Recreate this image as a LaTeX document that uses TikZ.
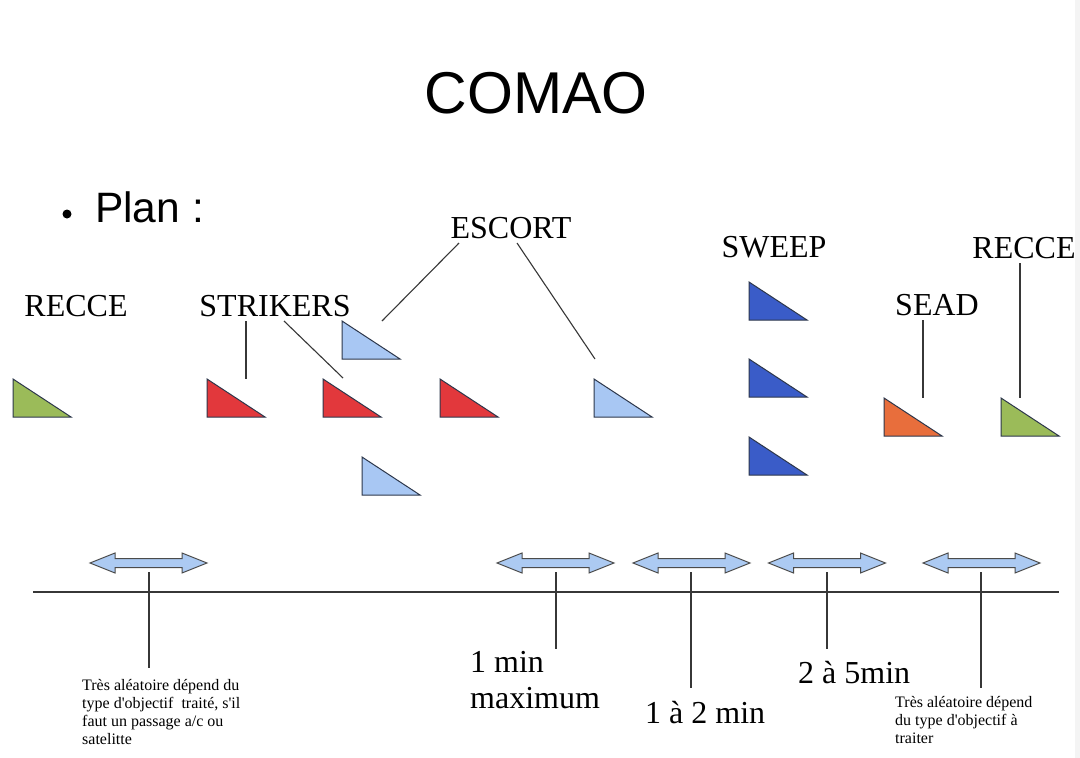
\documentclass[tikz,border=0pt]{standalone}
\usepackage{fontspec}
\setmainfont{Liberation Serif}
\newfontfamily\arialf{Liberation Sans}
\definecolor{cgreen}{RGB}{155,187,89}
\definecolor{cred}{RGB}{226,56,60}
\definecolor{clblue}{RGB}{168,199,243}
\definecolor{cblue}{RGB}{58,92,200}
\definecolor{corange}{RGB}{232,110,60}
\definecolor{coutline}{RGB}{45,55,75}
\definecolor{cline}{RGB}{55,55,55}
\definecolor{carrow}{RGB}{172,202,242}
\newcommand\plane[4]{%
  \coordinate (#1) at (#2,#3);
  \draw[tristyle, fill=#4] (#1) -- ++(0,38) -- ++(58,0) -- cycle;}
\newcommand\dblarrow[3]{%
  \coordinate (#1) at (#2,#3);
  \draw[arrowstyle] (#1) ++(-58.5,0) -- ++(25,-10) -- ++(0,5.5) -- ++(67,0) -- ++(0,-5.5)
    -- ++(25,10) -- ++(-25,10) -- ++(0,-5.5) -- ++(-67,0) -- ++(0,5.5) -- cycle;}
\begin{document}
\begin{tikzpicture}[x=1pt,y=-1pt,
  tristyle/.style={draw=coutline, line width=1pt, line join=miter},
  arrowstyle/.style={draw=cline!90, fill=carrow, line width=1pt},
  leader/.style={draw=cline, line width=1.1pt},
  lbl/.style={inner sep=0pt, anchor=base, font=\fontsize{32}{36}\selectfont},
  small/.style={inner sep=0pt, anchor=base west, align=left, font=\fontsize{16}{18}\selectfont}]
\useasboundingbox (0,0) rectangle (1080,758);
\fill[white] (0,0) rectangle (1080,758);
\fill[gray!9] (1075,0) rectangle (1080,758);

% title
\node[inner sep=0pt, anchor=base, font=\arialf\fontsize{59}{64}\selectfont] (title) at (536,113) {COMAO};
\fill (67,214) circle (4.5);
\node[inner sep=0pt, anchor=base west, font=\arialf\fontsize{42.5}{48}\selectfont] (plan) at (95,222) {Plan :};

% labels
\node[lbl] (lrecce1) at (76,316) {RECCE};
\node[lbl] (lstrikers) at (275,316) {STRIKERS};
\node[lbl] (lescort) at (511,238) {ESCORT};
\node[lbl] (lsweep) at (774,257) {SWEEP};
\node[lbl] (lsead) at (937,315) {SEAD};
\node[lbl] (lrecce2) at (1024,258) {RECCE};

% aircraft
\plane{reccel}{13}{379}{cgreen}
\plane{str1}{207}{379}{cred}
\plane{str2}{323}{379}{cred}
\plane{str3}{440}{379}{cred}
\plane{esc1}{342}{321}{clblue}
\plane{esc2}{362}{457}{clblue}
\plane{esc3}{594}{379}{clblue}
\plane{sw1}{749}{282}{cblue}
\plane{sw2}{749}{359}{cblue}
\plane{sw3}{749}{437}{cblue}
\plane{sead}{884}{398}{corange}
\plane{reccer}{1001}{398}{cgreen}

% leader lines
\coordinate (s1a) at (246,321); \coordinate (s1b) at (246,379);
\coordinate (s2a) at (284,321); \coordinate (s2b) at (343,378);
\coordinate (e1a) at (459,243); \coordinate (e1b) at (382,321);
\coordinate (e2a) at (517,243); \coordinate (e2b) at (595,359);
\coordinate (sda) at (923,320); \coordinate (sdb) at (923,398);
\coordinate (rca) at (1020,263); \coordinate (rcb) at (1020,398);
\draw[leader] (s1a) -- (s1b);
\draw[leader] (s2a) -- (s2b);
\draw[leader] (e1a) -- (e1b);
\draw[leader] (e2a) -- (e2b);
\draw[leader] (sda) -- (sdb);
\draw[leader] (rca) -- (rcb);

% timeline
\coordinate (tla) at (33,592); \coordinate (tlb) at (1059,592);
\draw[leader] (tla) -- (tlb);

% interval arrows
\dblarrow{a1}{148.5}{563}
\dblarrow{a2}{555.5}{563}
\dblarrow{a3}{691.5}{563}
\dblarrow{a4}{827}{563}
\dblarrow{a5}{981.5}{563}

\coordinate (a1t) at (149,572); \coordinate (a1e) at (149,668);
\coordinate (a2t) at (556,572); \coordinate (a2e) at (556,649);
\coordinate (a3t) at (691,572); \coordinate (a3e) at (691,688);
\coordinate (a4t) at (827,572); \coordinate (a4e) at (827,649);
\coordinate (a5t) at (981,572); \coordinate (a5e) at (981,688);
\draw[leader] (a1t) -- (a1e);
\draw[leader] (a2t) -- (a2e);
\draw[leader] (a3t) -- (a3e);
\draw[leader] (a4t) -- (a4e);
\draw[leader] (a5t) -- (a5e);

% bottom texts (base anchor = last line)
\node[small] (t1) at (82,744) {Très aléatoire dépend du\\type d\textquotesingle objectif\ \ traité, s\textquotesingle il\\faut un passage a/c ou\\satelitte};
\node[lbl, anchor=base west, align=left] (t2) at (470,708) {1 min\\maximum};
\node[lbl, anchor=base west] (t3) at (645,723) {1 à 2 min};
\node[lbl, anchor=base west] (t4) at (798,683) {2 à 5min};
\node[small] (t5) at (895,743) {Très aléatoire dépend\\du type d\textquotesingle objectif à\\traiter};
\end{tikzpicture}
\end{document}
